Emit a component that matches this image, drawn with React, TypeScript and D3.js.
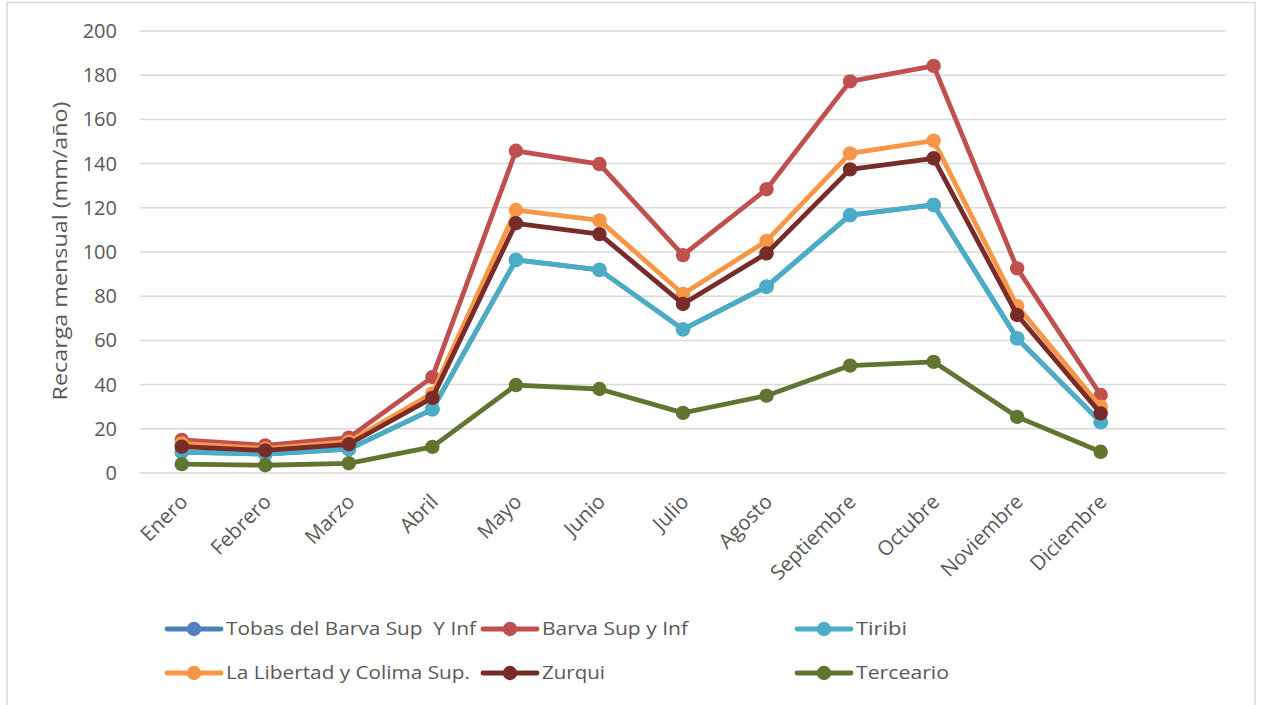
import React from "react";
import * as d3 from "d3";

// Monthly recharge per hydrogeological unit (mm/año)
const months = [
  "Enero", "Febrero", "Marzo", "Abril", "Mayo", "Junio",
  "Julio", "Agosto", "Septiembre", "Octubre", "Noviembre", "Diciembre",
];

const tobasDelBarva = [9.5, 8.5, 10.8, 28.8, 96.4, 91.9, 65.0, 84.3, 116.7, 121.3, 60.9, 23.0];
const barvaSupInf = [15.0, 12.5, 16.0, 43.4, 145.8, 139.8, 98.6, 128.4, 177.2, 184.2, 92.6, 35.3];
const tiribi = [9.5, 8.5, 10.8, 28.8, 96.4, 91.9, 65.0, 84.3, 116.7, 121.3, 60.9, 23.0];
const laLibertad = [13.4, 11.0, 14.2, 36.0, 119.0, 114.3, 81.0, 105.0, 144.6, 150.4, 75.5, 30.0];
const zurqui = [11.9, 10.2, 13.0, 34.0, 113.0, 108.1, 76.5, 99.4, 137.4, 142.4, 71.5, 27.0];
const terceario = [4.0, 3.5, 4.4, 11.8, 39.8, 38.0, 27.2, 35.0, 48.6, 50.3, 25.4, 9.6];

const yTicks = [0, 20, 40, 60, 80, 100, 120, 140, 160, 180, 200];

const seriesNames = [
  "Tobas del Barva Sup  Y Inf",
  "Barva Sup y Inf",
  "Tiribi",
  "La Libertad y Colima Sup.",
  "Zurqui",
  "Terceario",
];
const seriesValues = [tobasDelBarva, barvaSupInf, tiribi, laLibertad, zurqui, terceario];
const seriesColors = ["#4F81BD", "#C0504D", "#4BACC6", "#F79646", "#772C2A", "#5F7530"];

const W = 1262;
const H = 705;
const plot = { left: 140, right: 1226, top: 31, bottom: 473 };
const FONT = "'Open Sans', sans-serif";
const TEXT = "#595959";

// legend layout: [x of line start, y centre, text width]
const legendPos: [number, number, number][] = [
  [167, 629, 250],
  [483, 629, 146],
  [797, 629, 51],
  [167, 673, 244],
  [483, 673, 63],
  [797, 673, 93],
];

export default function App() {
  // 13 equal slots across the plot, the last one left empty
  const slots = [...months, ""];
  const x = d3.scaleBand<string>().domain(slots.map((m, i) => m || `__${i}`)).range([plot.left, plot.right]);
  const cx = (i: number) => (x(months[i]) as number) + x.bandwidth() / 2;
  const y = d3.scaleLinear().domain([0, 200]).range([plot.bottom, plot.top]);

  const line = d3
    .line<number>()
    .x((_, i) => cx(i))
    .y((d) => y(d));

  return (
    <svg width={W} height={H} style={{ display: "block", position: "absolute", left: 0, top: 0 }}>
      <rect x={0} y={0} width={W} height={H} fill="#fff" />
      <rect x={7} y={2.5} width={1248} height={H + 10} fill="none" stroke="#D9D9D9" strokeWidth={1.5} />

      {yTicks.map((t) => (
        <g key={t}>
          <line x1={plot.left} x2={plot.right} y1={y(t)} y2={y(t)} stroke="#D9D9D9" strokeWidth={1.5} />
          <text
            x={117}
            y={y(t)}
            dy="0.35em"
            textAnchor="end"
            fontFamily={FONT}
            fontSize={20}
            fill={TEXT}
          >
            {t}
          </text>
        </g>
      ))}

      <text
        transform={`translate(60, 251) rotate(-90)`}
        textAnchor="middle"
        dy="0.35em"
        fontFamily={FONT}
        fontSize={20}
        fill={TEXT}
        textLength={299}
        lengthAdjust="spacingAndGlyphs"
      >
        Recarga mensual (mm/año)
      </text>

      {months.map((m, i) => (
        <text
          key={m}
          transform={`translate(${cx(i) + 2}, 498) rotate(-45)`}
          textAnchor="end"
          dy="0.35em"
          fontFamily={FONT}
          fontSize={20.5}
          fill={TEXT}
        >
          {m}
        </text>
      ))}

      {seriesValues.map((vals, s) => (
        <g key={seriesNames[s]}>
          <path
            d={line(vals) ?? ""}
            fill="none"
            stroke={seriesColors[s]}
            strokeWidth={4.8}
            strokeLinejoin="round"
            strokeLinecap="round"
          />
          {vals.map((v, i) => (
            <circle key={i} cx={cx(i)} cy={y(v)} r={7.2} fill={seriesColors[s]} />
          ))}
        </g>
      ))}

      {seriesNames.map((name, s) => {
        const [lx, ly, tw] = legendPos[s];
        return (
          <g key={name}>
            <line
              x1={lx}
              x2={lx + 54}
              y1={ly}
              y2={ly}
              stroke={seriesColors[s]}
              strokeWidth={4.8}
              strokeLinecap="round"
            />
            <circle cx={lx + 27} cy={ly} r={7.2} fill={seriesColors[s]} />
            <text
              x={lx + 59}
              y={ly}
              dy="0.35em"
              fontFamily={FONT}
              fontSize={18}
              fill={TEXT}
              textLength={tw}
              lengthAdjust="spacingAndGlyphs"
              style={{ whiteSpace: "pre" }}
            >
              {name}
            </text>
          </g>
        );
      })}
    </svg>
  );
}
